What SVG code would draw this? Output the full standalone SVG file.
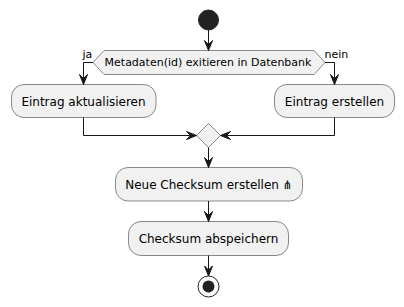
<svg xmlns="http://www.w3.org/2000/svg" width="404" height="307" viewBox="0 0 404 307">
  <style>
    .act { fill: #F1F1F1; stroke: #181818; stroke-width: 0.5; }
    .txt { font-family: "DejaVu Sans", sans-serif; font-size: 12px; fill: #000000; }
    .cond { font-family: "DejaVu Sans", sans-serif; font-size: 11px; fill: #000000; }
    .lbl { font-family: "DejaVu Sans", sans-serif; font-size: 11px; fill: #000000; }
    .edge { fill: none; stroke: #181818; stroke-width: 1; }
    .head { fill: #181818; stroke: #181818; stroke-width: 1; }
  </style>
  <rect width="404" height="307" fill="#FFFFFF"/>

  <!-- start -->
  <g id="start">
    <circle cx="208.5" cy="20" r="10" fill="#222222" stroke="#222222"/>
  </g>

  <!-- decision -->
  <g id="decision">
    <polygon class="act" points="93,62.5 104,50.5 314,50.5 325,62.5 314,74.5 104,74.5"/>
    <text class="cond" x="208" y="65.5" text-anchor="middle">Metadaten(id) exitieren in Datenbank</text>
  </g>

  <g id="update">
    <rect class="act" x="11.5" y="84.5" width="144.5" height="33" rx="12.5" ry="12.5"/>
    <text class="txt" x="83.5" y="105.5" text-anchor="middle">Eintrag aktualisieren</text>
  </g>

  <g id="create">
    <rect class="act" x="274.5" y="84.5" width="120" height="33" rx="12.5" ry="12.5"/>
    <text class="txt" x="334.5" y="105.5" text-anchor="middle">Eintrag erstellen</text>
  </g>

  <!-- merge -->
  <g id="merge">
    <polygon class="act" points="208.5,123.5 220.5,135.5 208.5,147.5 196.5,135.5"/>
  </g>

  <g id="checksum">
    <rect class="act" x="115.5" y="167.5" width="187" height="33.5" rx="12.5" ry="12.5"/>
    <text class="txt" x="209" y="188.5" text-anchor="middle">Neue Checksum erstellen ⋔</text>
  </g>

  <g id="save">
    <rect class="act" x="128.5" y="221.5" width="160" height="34" rx="12.5" ry="12.5"/>
    <text class="txt" x="208.5" y="243" text-anchor="middle">Checksum abspeichern</text>
  </g>

  <!-- stop -->
  <g id="stop">
    <circle cx="208.5" cy="286.5" r="10.5" fill="none" stroke="#222222" stroke-width="1"/>
    <circle cx="208.5" cy="286.5" r="6" fill="#222222"/>
  </g>

  <!-- connectors -->
  <g id="connectors">
    <line class="edge" x1="208.5" y1="30" x2="208.5" y2="50.5"/>
    <polygon class="head" points="204.5,40.5 208.5,50.5 212.5,40.5 208.5,44.5"/>

    <polyline class="edge" points="93,62.5 83.5,62.5 83.5,84.5"/>
    <polygon class="head" points="79.5,74.5 83.5,84.5 87.5,74.5 83.5,78.5"/>
    <text class="lbl" x="82.5" y="58">ja</text>

    <polyline class="edge" points="325,62.5 334.5,62.5 334.5,84.5"/>
    <polygon class="head" points="330.5,74.5 334.5,84.5 338.5,74.5 334.5,78.5"/>
    <text class="lbl" x="324.5" y="58">nein</text>

    <polyline class="edge" points="83.5,117.5 83.5,135.5 196.5,135.5"/>
    <polygon class="head" points="186.5,131.5 196.5,135.5 186.5,139.5 190.5,135.5"/>

    <polyline class="edge" points="334.5,117.5 334.5,135.5 220.5,135.5"/>
    <polygon class="head" points="230.5,131.5 220.5,135.5 230.5,139.5 226.5,135.5"/>

    <line class="edge" x1="208.5" y1="147.5" x2="208.5" y2="167.5"/>
    <polygon class="head" points="204.5,157.5 208.5,167.5 212.5,157.5 208.5,161.5"/>

    <line class="edge" x1="208.5" y1="201" x2="208.5" y2="221.5"/>
    <polygon class="head" points="204.5,211.5 208.5,221.5 212.5,211.5 208.5,215.5"/>

    <line class="edge" x1="208.5" y1="255.5" x2="208.5" y2="276"/>
    <polygon class="head" points="204.5,266 208.5,276 212.5,266 208.5,270"/>
  </g>
</svg>
